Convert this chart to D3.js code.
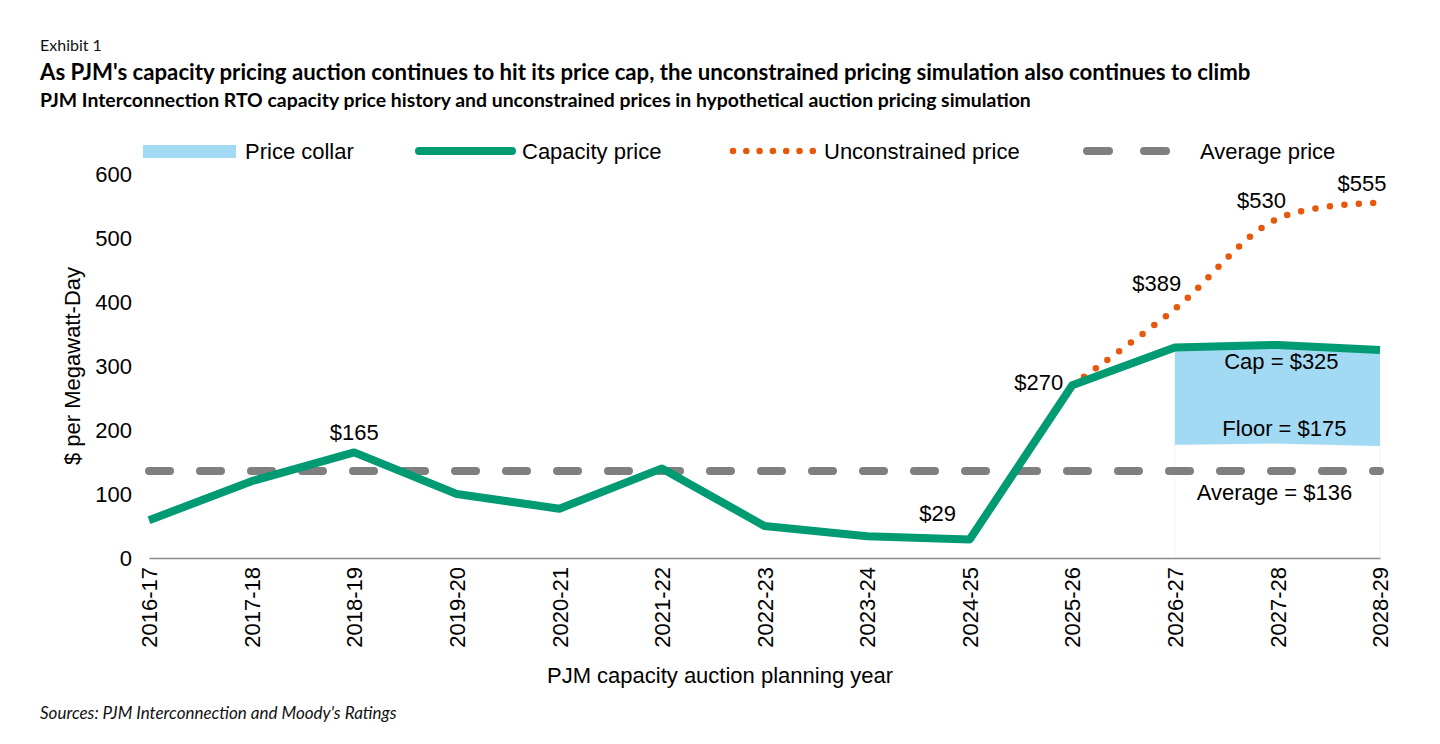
<!DOCTYPE html>
<html>
<head>
<meta charset="utf-8">
<script src="https://cdn.jsdelivr.net/npm/d3@7"></script>
<style>
  body { margin: 0; background: #fff; }
  svg { display: block; }
</style>
</head>
<body>
<svg id="chart" width="1440" height="744"></svg>
<script>
var years = ['2016-17','2017-18','2018-19','2019-20','2020-21','2021-22','2022-23',
             '2023-24','2024-25','2025-26','2026-27','2027-28','2028-29'];
var capacityPrice = [59, 120, 165, 100, 77, 140, 50, 34, 29, 270, 329, 333, 325];
var unconstrainedYears = ['2025-26','2026-27','2027-28','2028-29'];
var unconstrainedPrice = [270, 389, 530, 555];
var collarYears = ['2026-27','2027-28','2028-29'];
var collarCap = [329, 333, 325];
var collarFloor = [177, 179, 175];
var averagePrice = 136;
var yTicks = [0, 100, 200, 300, 400, 500, 600];

var valueLabels = [
  {year: '2018-19', value: 165, text: '$165', dx: 0, dy: -12, anchor: 'middle'},
  {year: '2024-25', value: 29, text: '$29', dx: -32, dy: -18, anchor: 'middle'},
  {year: '2025-26', value: 270, text: '$270', dx: -9, dy: 5, anchor: 'end'},
  {year: '2026-27', value: 389, text: '$389', dx: -18, dy: -18, anchor: 'middle'},
  {year: '2027-28', value: 530, text: '$530', dx: -16, dy: -11, anchor: 'middle'},
  {year: '2028-29', value: 555, text: '$555', dx: -18, dy: -12, anchor: 'middle'}
];

var green = '#009A73', orange = '#E8580C', grey = '#7F7F7F', blue = '#A2DAF3';
var axisFont = "'Liberation Sans', Arial, sans-serif";
var textFont = "Lato, 'Open Sans', sans-serif";
var fs = '22px';

var svg = d3.select('#chart');

var x = d3.scalePoint().domain(years).range([149, 1380]);
var y = d3.scaleLinear().domain([0, 600]).range([558, 174]);

// titles
svg.append('text').attr('x', 40).attr('y', 51)
  .style('font-family', textFont).style('font-size', '16px').attr('fill', '#111')
  .text('Exhibit 1');
svg.append('text').attr('x', 40).attr('y', 80)
  .style('font-family', textFont).style('font-size', '22.2px').style('font-weight', 'bold').attr('fill', '#000')
  .text("As PJM's capacity pricing auction continues to hit its price cap, the unconstrained pricing simulation also continues to climb");
svg.append('text').attr('x', 40).attr('y', 107)
  .style('font-family', textFont).style('font-size', '19.4px').style('font-weight', 'bold').attr('fill', '#000')
  .text('PJM Interconnection RTO capacity price history and unconstrained prices in hypothetical auction pricing simulation');

// price collar (white area below floor, blue band floor..cap)
var collar = collarYears.map(function(d, i) {
  return {year: d, cap: collarCap[i], floor: collarFloor[i]};
});
svg.append('path').datum(collar)
  .attr('d', d3.area().x(function(d) { return x(d.year); })
    .y0(y(0)).y1(function(d) { return y(d.floor); }))
  .attr('fill', '#fff').attr('stroke', '#eef4f8').attr('stroke-width', 1);
svg.append('path').datum(collar)
  .attr('d', d3.area().x(function(d) { return x(d.year); })
    .y0(function(d) { return y(d.floor); }).y1(function(d) { return y(d.cap); }))
  .attr('fill', blue);

// y axis
var yAxis = svg.append('g').attr('transform', 'translate(149,0)')
  .call(d3.axisLeft(y).tickValues(yTicks).tickSize(0).tickPadding(17));
yAxis.select('.domain').remove();
yAxis.selectAll('text').style('font-family', axisFont).style('font-size', fs).attr('fill', '#000');

// x axis
var xAxis = svg.append('g').attr('transform', 'translate(0,' + y(0) + ')')
  .call(d3.axisBottom(x).tickSize(0).tickPadding(0));
xAxis.select('.domain').attr('stroke', '#8c8c8c').attr('stroke-width', 1.5);
xAxis.selectAll('text')
  .style('font-family', axisFont).style('font-size', fs).attr('fill', '#000')
  .attr('transform', 'rotate(-90)').attr('text-anchor', 'end')
  .attr('x', -9).attr('y', 0).attr('dy', '0.35em');

// average price
svg.append('line')
  .attr('x1', x(years[0])).attr('x2', x(years[years.length - 1]))
  .attr('y1', y(averagePrice)).attr('y2', y(averagePrice))
  .attr('stroke', grey).attr('stroke-width', 8).attr('stroke-linecap', 'round')
  .attr('stroke-dasharray', '21 30');

// unconstrained price
var unconstrained = unconstrainedYears.map(function(d, i) { return {year: d, value: unconstrainedPrice[i]}; });
svg.append('path').datum(unconstrained)
  .attr('d', d3.line().curve(d3.curveCatmullRom.alpha(0.5))
    .x(function(d) { return x(d.year); }).y(function(d) { return y(d.value); }))
  .attr('fill', 'none').attr('stroke', orange).attr('stroke-width', 6.5)
  .attr('stroke-linecap', 'round').attr('stroke-dasharray', '0 14.5');

// capacity price
var capacity = years.map(function(d, i) { return {year: d, value: capacityPrice[i]}; });
svg.append('path').datum(capacity)
  .attr('d', d3.line().x(function(d) { return x(d.year); }).y(function(d) { return y(d.value); }))
  .attr('fill', 'none').attr('stroke', green).attr('stroke-width', 8)
  .attr('stroke-linejoin', 'round');

// value labels
svg.append('g').selectAll('text').data(valueLabels).enter().append('text')
  .attr('x', function(d) { return x(d.year) + d.dx; })
  .attr('y', function(d) { return y(d.value) + d.dy; })
  .attr('text-anchor', function(d) { return d.anchor; })
  .style('font-family', axisFont).style('font-size', fs).attr('fill', '#000')
  .text(function(d) { return d.text; });

// collar / average annotations
var midCollar = (x('2026-27') + x('2028-29')) / 2;
[
  {text: 'Cap = $325', x: midCollar + 4, y: 369},
  {text: 'Floor = $175', x: midCollar + 7, y: 436},
  {text: 'Average = $136', x: midCollar - 3, y: 500}
].forEach(function(a) {
  svg.append('text').attr('x', a.x).attr('y', a.y).attr('text-anchor', 'middle')
    .style('font-family', axisFont).style('font-size', fs).attr('fill', '#000')
    .text(a.text);
});

// axis titles
svg.append('text')
  .attr('transform', 'translate(80,' + 366 + ') rotate(-90)')
  .attr('text-anchor', 'middle')
  .style('font-family', axisFont).style('font-size', fs).attr('fill', '#000')
  .text('$ per Megawatt-Day');
svg.append('text').attr('x', 720).attr('y', 683).attr('text-anchor', 'middle')
  .style('font-family', axisFont).style('font-size', fs).attr('fill', '#000')
  .text('PJM capacity auction planning year');

// legend
var legendY = 151;
var lg = svg.append('g').style('font-family', axisFont).style('font-size', fs);
lg.append('rect').attr('x', 143).attr('y', legendY - 6).attr('width', 93).attr('height', 13).attr('fill', blue);
lg.append('text').attr('x', 245).attr('y', legendY + 8).text('Price collar');
lg.append('line').attr('x1', 419).attr('x2', 512).attr('y1', legendY).attr('y2', legendY)
  .attr('stroke', green).attr('stroke-width', 8).attr('stroke-linecap', 'round');
lg.append('text').attr('x', 522).attr('y', legendY + 8).text('Capacity price');
lg.append('line').attr('x1', 733).attr('x2', 813).attr('y1', legendY).attr('y2', legendY)
  .attr('stroke', orange).attr('stroke-width', 6.5).attr('stroke-linecap', 'round')
  .attr('stroke-dasharray', '0 13.3');
lg.append('text').attr('x', 824).attr('y', legendY + 8).text('Unconstrained price');
lg.append('line').attr('x1', 1087).attr('x2', 1166).attr('y1', legendY).attr('y2', legendY)
  .attr('stroke', grey).attr('stroke-width', 8).attr('stroke-linecap', 'round')
  .attr('stroke-dasharray', '22 35');
lg.append('text').attr('x', 1200).attr('y', legendY + 8).text('Average price');

// source
svg.append('text').attr('x', 40).attr('y', 719)
  .style('font-family', textFont).style('font-size', '17px').style('font-style', 'italic').attr('fill', '#111')
  .text("Sources: PJM Interconnection and Moody's Ratings");
</script>
</body>
</html>
